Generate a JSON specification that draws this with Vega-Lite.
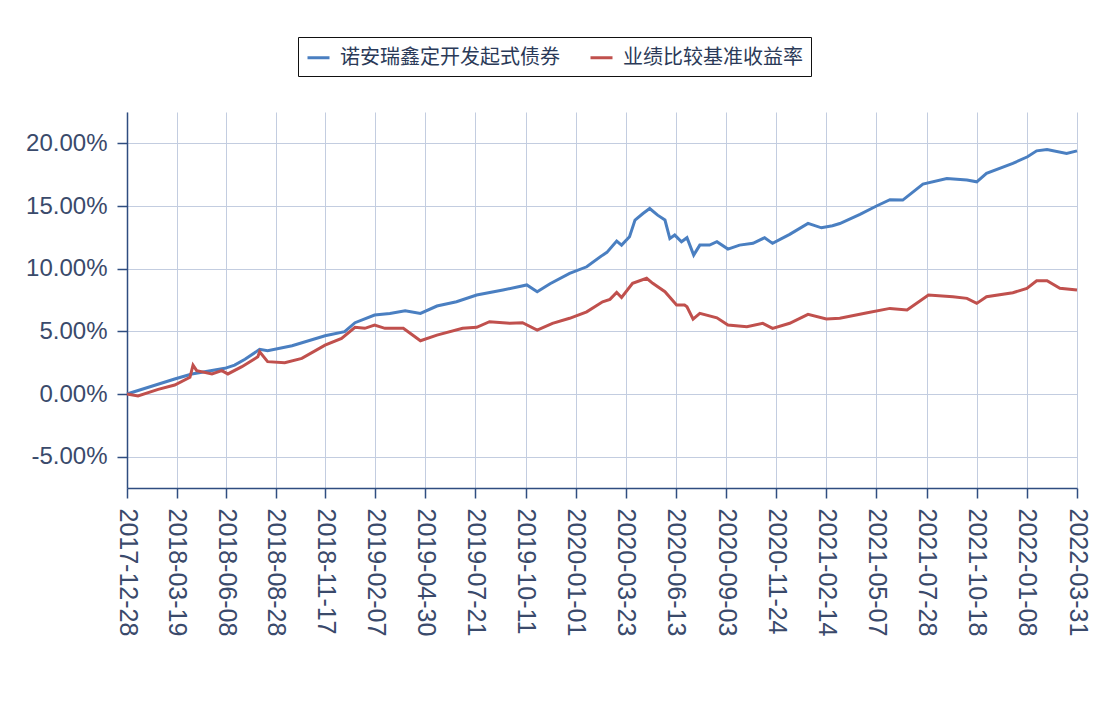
{
  "$schema": "https://vega.github.io/schema/vega-lite/v6.json",
  "width": 950,
  "height": 376,
  "autosize": {"type": "none"},
  "padding": {"left": 127, "top": 112, "right": 23, "bottom": 219},
  "background": "white",
  "config": {
    "view": {"stroke": null},
    "font": "Liberation Sans"
  },
  "data": {
    "values": [
      {"date": "2017-12-28", "s": "诺安瑞鑫定开发起式债券", "v": 0},
      {"date": "2018-03-16", "s": "诺安瑞鑫定开发起式债券", "v": 1.2},
      {"date": "2018-04-13", "s": "诺安瑞鑫定开发起式债券", "v": 1.6},
      {"date": "2018-06-06", "s": "诺安瑞鑫定开发起式债券", "v": 2.05},
      {"date": "2018-06-22", "s": "诺安瑞鑫定开发起式债券", "v": 2.3},
      {"date": "2018-07-09", "s": "诺安瑞鑫定开发起式债券", "v": 2.77},
      {"date": "2018-08-02", "s": "诺安瑞鑫定开发起式债券", "v": 3.56},
      {"date": "2018-08-15", "s": "诺安瑞鑫定开发起式债券", "v": 3.45},
      {"date": "2018-09-24", "s": "诺安瑞鑫定开发起式债券", "v": 3.85},
      {"date": "2018-11-17", "s": "诺安瑞鑫定开发起式债券", "v": 4.65},
      {"date": "2018-12-19", "s": "诺安瑞鑫定开发起式债券", "v": 4.97},
      {"date": "2019-01-05", "s": "诺安瑞鑫定开发起式债券", "v": 5.69},
      {"date": "2019-02-06", "s": "诺安瑞鑫定开发起式债券", "v": 6.3},
      {"date": "2019-03-03", "s": "诺安瑞鑫定开发起式债券", "v": 6.43},
      {"date": "2019-03-28", "s": "诺安瑞鑫定开发起式债券", "v": 6.64},
      {"date": "2019-04-22", "s": "诺安瑞鑫定开发起式债券", "v": 6.43},
      {"date": "2019-05-19", "s": "诺安瑞鑫定开发起式债券", "v": 7.02},
      {"date": "2019-06-20", "s": "诺安瑞鑫定开发起式债券", "v": 7.36},
      {"date": "2019-07-23", "s": "诺安瑞鑫定开发起式债券", "v": 7.9},
      {"date": "2019-09-04", "s": "诺安瑞鑫定开发起式债券", "v": 8.3},
      {"date": "2019-10-13", "s": "诺安瑞鑫定开发起式债券", "v": 8.7},
      {"date": "2019-10-30", "s": "诺安瑞鑫定开发起式债券", "v": 8.16},
      {"date": "2019-11-20", "s": "诺安瑞鑫定开发起式债券", "v": 8.8},
      {"date": "2019-12-22", "s": "诺安瑞鑫定开发起式债券", "v": 9.62},
      {"date": "2020-01-19", "s": "诺安瑞鑫定开发起式债券", "v": 10.15},
      {"date": "2020-02-14", "s": "诺安瑞鑫定开发起式债券", "v": 11.08},
      {"date": "2020-02-21", "s": "诺安瑞鑫定开发起式债券", "v": 11.3},
      {"date": "2020-03-08", "s": "诺安瑞鑫定开发起式债券", "v": 12.2},
      {"date": "2020-03-16", "s": "诺安瑞鑫定开发起式债券", "v": 11.88},
      {"date": "2020-03-29", "s": "诺安瑞鑫定开发起式债券", "v": 12.55},
      {"date": "2020-04-07", "s": "诺安瑞鑫定开发起式债券", "v": 13.88},
      {"date": "2020-04-20", "s": "诺安瑞鑫定开发起式债券", "v": 14.4},
      {"date": "2020-05-01", "s": "诺安瑞鑫定开发起式债券", "v": 14.8},
      {"date": "2020-05-14", "s": "诺安瑞鑫定开发起式债券", "v": 14.27},
      {"date": "2020-05-26", "s": "诺安瑞鑫定开发起式债券", "v": 13.88},
      {"date": "2020-06-03", "s": "诺安瑞鑫定开发起式债券", "v": 12.4},
      {"date": "2020-06-11", "s": "诺安瑞鑫定开发起式债券", "v": 12.68},
      {"date": "2020-06-22", "s": "诺安瑞鑫定开发起式债券", "v": 12.15},
      {"date": "2020-07-01", "s": "诺安瑞鑫定开发起式债券", "v": 12.47},
      {"date": "2020-07-12", "s": "诺安瑞鑫定开发起式债券", "v": 11.08},
      {"date": "2020-07-22", "s": "诺安瑞鑫定开发起式债券", "v": 11.88},
      {"date": "2020-08-07", "s": "诺安瑞鑫定开发起式债券", "v": 11.88},
      {"date": "2020-08-19", "s": "诺安瑞鑫定开发起式债券", "v": 12.15},
      {"date": "2020-09-06", "s": "诺安瑞鑫定开发起式债券", "v": 11.56},
      {"date": "2020-09-25", "s": "诺安瑞鑫定开发起式债券", "v": 11.88},
      {"date": "2020-10-17", "s": "诺安瑞鑫定开发起式债券", "v": 12.02},
      {"date": "2020-11-05", "s": "诺安瑞鑫定开发起式债券", "v": 12.47},
      {"date": "2020-11-18", "s": "诺安瑞鑫定开发起式债券", "v": 12.02},
      {"date": "2020-12-16", "s": "诺安瑞鑫定开发起式债券", "v": 12.74},
      {"date": "2021-01-15", "s": "诺安瑞鑫定开发起式债券", "v": 13.61},
      {"date": "2021-02-06", "s": "诺安瑞鑫定开发起式债券", "v": 13.26},
      {"date": "2021-02-24", "s": "诺安瑞鑫定开发起式债券", "v": 13.42},
      {"date": "2021-03-08", "s": "诺安瑞鑫定开发起式债券", "v": 13.6},
      {"date": "2021-04-10", "s": "诺安瑞鑫定开发起式债券", "v": 14.33},
      {"date": "2021-05-07", "s": "诺安瑞鑫定开发起式债券", "v": 15.0},
      {"date": "2021-05-29", "s": "诺安瑞鑫定开发起式债券", "v": 15.5},
      {"date": "2021-06-19", "s": "诺安瑞鑫定开发起式债券", "v": 15.47},
      {"date": "2021-07-22", "s": "诺安瑞鑫定开发起式债券", "v": 16.75},
      {"date": "2021-08-30", "s": "诺安瑞鑫定开发起式债券", "v": 17.2},
      {"date": "2021-10-02", "s": "诺安瑞鑫定开发起式债券", "v": 17.07},
      {"date": "2021-10-18", "s": "诺安瑞鑫定开发起式债券", "v": 16.93},
      {"date": "2021-11-03", "s": "诺安瑞鑫定开发起式债券", "v": 17.6},
      {"date": "2021-12-16", "s": "诺安瑞鑫定开发起式债券", "v": 18.4},
      {"date": "2022-01-09", "s": "诺安瑞鑫定开发起式债券", "v": 18.93},
      {"date": "2022-01-24", "s": "诺安瑞鑫定开发起式债券", "v": 19.4},
      {"date": "2022-02-10", "s": "诺安瑞鑫定开发起式债券", "v": 19.5},
      {"date": "2022-03-14", "s": "诺安瑞鑫定开发起式债券", "v": 19.2},
      {"date": "2022-03-31", "s": "诺安瑞鑫定开发起式债券", "v": 19.4},

      {"date": "2017-12-28", "s": "业绩比较基准收益率", "v": 0},
      {"date": "2018-01-15", "s": "业绩比较基准收益率", "v": -0.16},
      {"date": "2018-02-17", "s": "业绩比较基准收益率", "v": 0.37},
      {"date": "2018-03-16", "s": "业绩比较基准收益率", "v": 0.72},
      {"date": "2018-04-10", "s": "业绩比较基准收益率", "v": 1.33},
      {"date": "2018-04-15", "s": "业绩比较基准收益率", "v": 2.3},
      {"date": "2018-04-21", "s": "业绩比较基准收益率", "v": 1.86},
      {"date": "2018-05-16", "s": "业绩比较基准收益率", "v": 1.6},
      {"date": "2018-06-01", "s": "业绩比较基准收益率", "v": 1.86},
      {"date": "2018-06-11", "s": "业绩比较基准收益率", "v": 1.6},
      {"date": "2018-07-04", "s": "业绩比较基准收益率", "v": 2.18},
      {"date": "2018-07-30", "s": "业绩比较基准收益率", "v": 2.97},
      {"date": "2018-08-02", "s": "业绩比较基准收益率", "v": 3.37},
      {"date": "2018-08-15", "s": "业绩比较基准收益率", "v": 2.58},
      {"date": "2018-09-12", "s": "业绩比较基准收益率", "v": 2.5},
      {"date": "2018-10-10", "s": "业绩比较基准收益率", "v": 2.84},
      {"date": "2018-11-17", "s": "业绩比较基准收益率", "v": 3.9},
      {"date": "2018-12-14", "s": "业绩比较基准收益率", "v": 4.44},
      {"date": "2019-01-05", "s": "业绩比较基准收益率", "v": 5.32},
      {"date": "2019-01-21", "s": "业绩比较基准收益率", "v": 5.24},
      {"date": "2019-02-06", "s": "业绩比较基准收益率", "v": 5.5},
      {"date": "2019-02-23", "s": "业绩比较基准收益率", "v": 5.24},
      {"date": "2019-03-25", "s": "业绩比较基准收益率", "v": 5.24},
      {"date": "2019-04-22", "s": "业绩比较基准收益率", "v": 4.25},
      {"date": "2019-05-19", "s": "业绩比较基准收益率", "v": 4.7},
      {"date": "2019-06-30", "s": "业绩比较基准收益率", "v": 5.24},
      {"date": "2019-07-23", "s": "业绩比较基准收益率", "v": 5.32},
      {"date": "2019-08-13", "s": "业绩比较基准收益率", "v": 5.77},
      {"date": "2019-09-15", "s": "业绩比较基准收益率", "v": 5.64},
      {"date": "2019-10-06", "s": "业绩比较基准收益率", "v": 5.69},
      {"date": "2019-10-30", "s": "业绩比较基准收益率", "v": 5.1},
      {"date": "2019-11-24", "s": "业绩比较基准收益率", "v": 5.64},
      {"date": "2019-12-22", "s": "业绩比较基准收益率", "v": 6.04},
      {"date": "2020-01-19", "s": "业绩比较基准收益率", "v": 6.56},
      {"date": "2020-02-14", "s": "业绩比较基准收益率", "v": 7.36},
      {"date": "2020-02-26", "s": "业绩比较基准收益率", "v": 7.55},
      {"date": "2020-03-08", "s": "业绩比较基准收益率", "v": 8.1},
      {"date": "2020-03-16", "s": "业绩比较基准收益率", "v": 7.7},
      {"date": "2020-04-03", "s": "业绩比较基准收益率", "v": 8.83},
      {"date": "2020-04-26", "s": "业绩比较基准收益率", "v": 9.23},
      {"date": "2020-05-06", "s": "业绩比较基准收益率", "v": 8.83},
      {"date": "2020-05-26", "s": "业绩比较基准收益率", "v": 8.16},
      {"date": "2020-06-14", "s": "业绩比较基准收益率", "v": 7.1},
      {"date": "2020-06-27", "s": "业绩比较基准收益率", "v": 7.1},
      {"date": "2020-07-01", "s": "业绩比较基准收益率", "v": 6.96},
      {"date": "2020-07-11", "s": "业绩比较基准收益率", "v": 5.98},
      {"date": "2020-07-22", "s": "业绩比较基准收益率", "v": 6.43},
      {"date": "2020-08-19", "s": "业绩比较基准收益率", "v": 6.08},
      {"date": "2020-09-06", "s": "业绩比较基准收益率", "v": 5.5},
      {"date": "2020-10-07", "s": "业绩比较基准收益率", "v": 5.37},
      {"date": "2020-11-02", "s": "业绩比较基准收益率", "v": 5.64},
      {"date": "2020-11-18", "s": "业绩比较基准收益率", "v": 5.24},
      {"date": "2020-12-16", "s": "业绩比较基准收益率", "v": 5.64},
      {"date": "2021-01-15", "s": "业绩比较基准收益率", "v": 6.35},
      {"date": "2021-02-14", "s": "业绩比较基准收益率", "v": 5.98},
      {"date": "2021-03-08", "s": "业绩比较基准收益率", "v": 6.04},
      {"date": "2021-04-22", "s": "业绩比较基准收益率", "v": 6.48},
      {"date": "2021-05-29", "s": "业绩比较基准收益率", "v": 6.83},
      {"date": "2021-06-26", "s": "业绩比较基准收益率", "v": 6.7},
      {"date": "2021-07-31", "s": "业绩比较基准收益率", "v": 7.9},
      {"date": "2021-09-09", "s": "业绩比较基准收益率", "v": 7.76},
      {"date": "2021-10-02", "s": "业绩比较基准收益率", "v": 7.63},
      {"date": "2021-10-18", "s": "业绩比较基准收益率", "v": 7.23},
      {"date": "2021-11-03", "s": "业绩比较基准收益率", "v": 7.76},
      {"date": "2021-12-16", "s": "业绩比较基准收益率", "v": 8.08},
      {"date": "2022-01-08", "s": "业绩比较基准收益率", "v": 8.43},
      {"date": "2022-01-24", "s": "业绩比较基准收益率", "v": 9.04},
      {"date": "2022-02-10", "s": "业绩比较基准收益率", "v": 9.04},
      {"date": "2022-03-03", "s": "业绩比较基准收益率", "v": 8.43},
      {"date": "2022-03-31", "s": "业绩比较基准收益率", "v": 8.3}
    ]
  },
  "mark": {"type": "line", "strokeWidth": 3, "interpolate": "linear"},
  "encoding": {
    "x": {
      "field": "date",
      "type": "temporal",
      "title": null,
      "scale": {
        "type": "utc",
        "domain": [
          {"year": 2017, "month": 12, "date": 28, "utc": true},
          {"year": 2022, "month": 3, "date": 31, "utc": true}
        ]
      },
      "axis": {
        "values": [
          {"year": 2017, "month": 12, "date": 28, "utc": true},
          {"year": 2018, "month": 3, "date": 19, "utc": true},
          {"year": 2018, "month": 6, "date": 8, "utc": true},
          {"year": 2018, "month": 8, "date": 28, "utc": true},
          {"year": 2018, "month": 11, "date": 17, "utc": true},
          {"year": 2019, "month": 2, "date": 7, "utc": true},
          {"year": 2019, "month": 4, "date": 30, "utc": true},
          {"year": 2019, "month": 7, "date": 21, "utc": true},
          {"year": 2019, "month": 10, "date": 11, "utc": true},
          {"year": 2020, "month": 1, "date": 1, "utc": true},
          {"year": 2020, "month": 3, "date": 23, "utc": true},
          {"year": 2020, "month": 6, "date": 13, "utc": true},
          {"year": 2020, "month": 9, "date": 3, "utc": true},
          {"year": 2020, "month": 11, "date": 24, "utc": true},
          {"year": 2021, "month": 2, "date": 14, "utc": true},
          {"year": 2021, "month": 5, "date": 7, "utc": true},
          {"year": 2021, "month": 7, "date": 28, "utc": true},
          {"year": 2021, "month": 10, "date": 18, "utc": true},
          {"year": 2022, "month": 1, "date": 8, "utc": true},
          {"year": 2022, "month": 3, "date": 31, "utc": true}
        ],
        "labelExpr": "utcFormat(datum.value, '%Y-%m-%d')",
        "labelAngle": 90,
        "labelAlign": "left",
        "labelBaseline": "middle",
        "labelFont": "Liberation Sans",
        "labelFontSize": 25,
        "labelColor": "#3a4a6b",
        "labelPadding": 10,
        "labelOverlap": false,
        "labelFlush": false,
        "tickSize": 10,
        "tickColor": "#2f4d80",
        "tickWidth": 1.5,
        "domainColor": "#2f4d80",
        "domainWidth": 1.5,
        "grid": true,
        "gridColor": "#c3cde0",
        "gridWidth": 1
      }
    },
    "y": {
      "field": "v",
      "type": "quantitative",
      "title": null,
      "scale": {"domain": [-7.5, 22.5], "nice": false, "zero": false},
      "axis": {
        "values": [-5, 0, 5, 10, 15, 20],
        "labelExpr": "(datum.value < 0 ? '-' : '') + format(abs(datum.value), '.2f') + '%'",
        "labelFont": "Liberation Sans",
        "labelFontSize": 24,
        "labelColor": "#3a4a6b",
        "labelPadding": 10,
        "tickSize": 10,
        "tickColor": "#2f4d80",
        "tickWidth": 1.5,
        "domainColor": "#2f4d80",
        "domainWidth": 1.5,
        "grid": true,
        "gridColor": "#c3cde0",
        "gridWidth": 1
      }
    },
    "color": {
      "field": "s",
      "type": "nominal",
      "scale": {
        "domain": ["诺安瑞鑫定开发起式债券", "业绩比较基准收益率"],
        "range": ["#4a7fc1", "#c0504d"]
      },
      "legend": {
        "title": null,
        "orient": "none",
        "direction": "horizontal",
        "legendX": 171,
        "legendY": -75,
        "symbolType": "stroke",
        "symbolStrokeWidth": 3,
        "symbolSize": 484,
        "labelFont": "Noto Sans CJK SC",
        "labelFontSize": 20,
        "labelColor": "#2b3a58",
        "labelOffset": 9,
        "columnPadding": 24,
        "strokeColor": "#111111",
        "padding": 8,
        "labelLimit": 400
      }
    }
  }
}
